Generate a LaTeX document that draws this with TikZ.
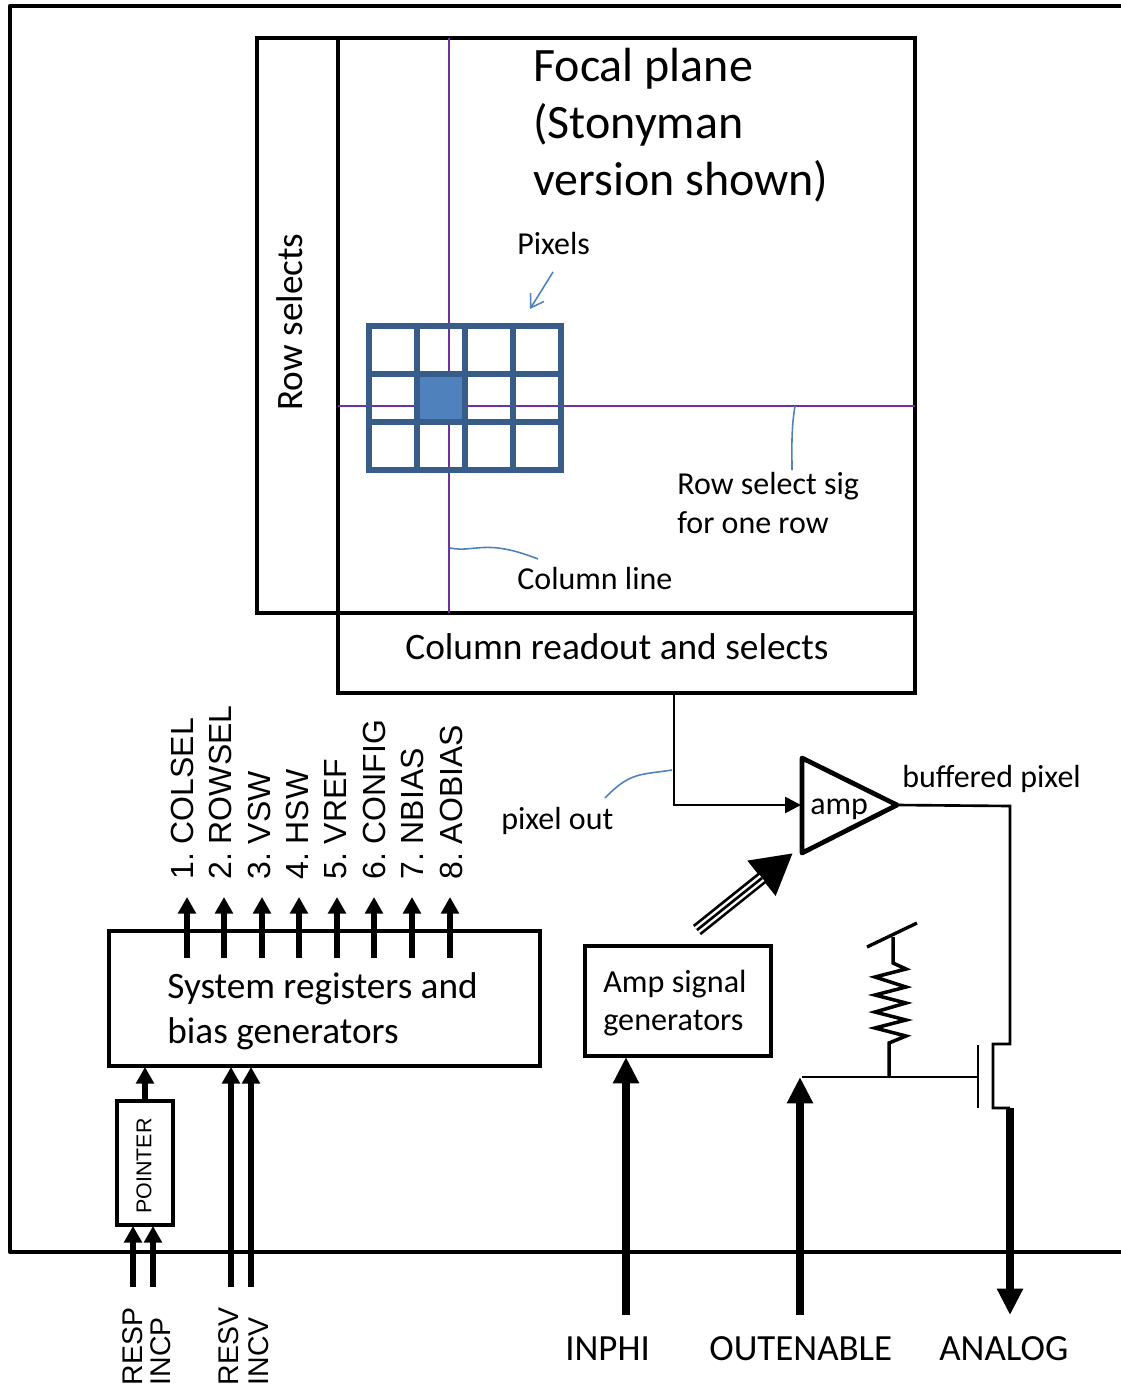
\documentclass[tikz,border=0pt]{standalone}
\usepackage{fontspec}
\setmainfont{Carlito}
\newfontfamily\arialfont{Liberation Sans}
\usetikzlibrary{arrows.meta}
\definecolor{PixBlue}{RGB}{79,129,189}
\definecolor{PixEdge}{RGB}{56,93,138}
\definecolor{LinePurple}{RGB}{112,48,160}
\tikzset{
	box/.style={draw=black,line width=2.7pt,inner sep=0pt},
	txt/.style={inner sep=0pt,anchor=west,align=left},
	wire/.style={draw=black,line width=1.5pt},
	sel/.style={draw=LinePurple,line width=1.5pt},
	note/.style={draw=PixBlue,line width=0.9pt},
	pixcell/.style={draw=PixEdge,line width=2.9pt,minimum width=0.96cm,minimum height=0.96cm,inner sep=0pt},
	sigin/.style={draw=black,line width=3.2pt,-{Triangle[width=10pt,length=9.5pt]}},
	bus/.style={draw=black,line width=4.6pt,-{Triangle[width=14pt,length=15pt]}},
	regfont/.style={font=\arialfont\frenchspacing\fontsize{18.2}{20}\selectfont},
	padfont/.style={font=\arialfont\fontsize{16.2}{18}\selectfont},
	midfont/.style={font=\fontsize{18.2}{22}\selectfont},
	pinfont/.style={font=\fontsize{21}{24}\selectfont},
}
\begin{document}
\begin{tikzpicture}[x=0.02cm,y=-0.02cm]
	\useasboundingbox (0,0) rectangle (1121,1386);
	% chip outline
	\coordinate (tr) at (1121,6);
	\coordinate (tl) at (10,6);
	\coordinate (bl) at (10,1252);
	\coordinate (br) at (1121,1252);
	\draw[black,line width=2.7pt,line join=round] (tr)--(tl)--(bl)--(br);
	% focal plane and its borders
	\node[box,minimum width=1.62cm,minimum height=11.5cm] (rowsel) at (297.5,325.5) {};
	\node[rotate=90,inner sep=0pt,font=\fontsize{21.2}{24}\selectfont] (rowseltxt) at (290,322) {Row selects};
	\node[box,minimum width=11.54cm,minimum height=11.5cm] (focal) at (626.5,325.5) {};
	\node[box,minimum width=11.54cm,minimum height=1.6cm] (colbox) at (626.5,653) {};
	\node[txt,font=\fontsize{21.25}{24}\selectfont] (colboxtxt) at (405,647) {Column readout and selects};
	\node[txt,font=\fontsize{27.3}{32.4}\selectfont] (focaltxt) at (533,125) {Focal plane\\(Stonyman\\version shown)};
	% select lines
	\coordinate (coltop) at (449,38);
	\coordinate (colbot) at (449,613);
	\coordinate (rowl) at (338,406);
	\coordinate (rowr) at (915,406);
	\draw[sel] (coltop)--(colbot);
	\draw[sel] (rowl)--(rowr);
	% pixels
	\foreach \i in {1,...,4}
	\foreach \j in {1,...,3}
	\node[pixcell] (c\i\j) at ({369+48*(\i-1)+24},{326+48*(\j-1)+24}) {};
	\node[pixcell,fill=PixBlue] (c22) at (441,398) {};
	\node[txt,midfont] (pixtxt) at (517,244) {Pixels};
	\coordinate (pixa) at (553,272);
	\coordinate (pixb) at (530,309);
	\draw[note,-{Straight Barb[width=9pt,length=7pt]}] (pixa)--(pixb);
	\node[txt,midfont] (rowtxt) at (677,503) {Row select sig\\for one row};
	\coordinate (rowa) at (795,406);
	\coordinate (rowb) at (792,470);
	\draw[note] (rowa) .. controls (791,430) and (792,450) .. (rowb);
	\node[txt,midfont] (coltxt) at (517,579) {Column line};
	\coordinate (cola) at (450,548);
	\coordinate (colb) at (538,559);
	\draw[note] (cola) .. controls (475,553) and (485,538) .. (colb);
	% pixel output into the amp
	\coordinate (ampa) at (802,758);
	\coordinate (ampb) at (802,853);
	\coordinate (ampc) at (897,805);
	\draw[black,line width=2.7pt,line join=round] (ampa)--(ampc)--(ampb)--cycle;
	\node[txt,midfont] (amptxt) at (810,809) {amp};
	\coordinate (colout) at (674,693);
	\coordinate (colbend) at (674,805);
	\coordinate (ampin) at (801,805);
	\draw[wire,-{Triangle[width=9pt,length=9pt]}] (colout)--(colbend)--(ampin);
	\node[txt,midfont] (outtxt) at (501,821) {pixel out};
	\coordinate (outa) at (672,770);
	\coordinate (outb) at (605,798);
	\draw[note] (outa) .. controls (640,775) and (630,772) .. (outb);
	% amp output and the transistor
	\node[txt,midfont] (buftxt) at (902,779) {buffered pixel};
	\coordinate (d1) at (1010,806);
	\coordinate (d2) at (1010,1044);
	\coordinate (d3) at (993,1044);
	\coordinate (d4) at (993,1108);
	\coordinate (d5) at (1010,1108);
	\draw[wire] (ampc)--(d1)--(d2)--(d3)--(d4)--(d5);
	\coordinate (gt) at (978,1045);
	\coordinate (gb) at (978,1108);
	\coordinate (gm) at (978,1077);
	\coordinate (en) at (802,1077);
	\coordinate (rb) at (889,1077);
	\coordinate (rt) at (893,937);
	\draw[wire] (gt)--(gb);
	\draw[wire] (en)--(gm);
	\draw[black,line width=2pt] (rb)--(889,1043)--(906,1036)--(875,1028)--(906,1020)--(875,1012)--(906,1003)--(875,995)--(906,987)--(875,977)--(906,969)--(893,963)--(rt);
	\coordinate (ta) at (867,947);
	\coordinate (tb) at (917,923);
	\draw[black,line width=1.9pt] (ta)--(tb);
	% amp signals
	\node[box,minimum width=3.72cm,minimum height=2.2cm] (gens) at (678,1001) {};
	\node[txt,font=\fontsize{18.3}{21.6}\selectfont] (genstxt) at (603,1003) {Amp signal\\generators};
	\coordinate (tra) at (697,930);
	\coordinate (trb) at (793,853);
	\coordinate (trc) at (762,878);
	\draw[black,line width=7.4pt,-{Triangle[width=24pt,length=23pt]}] (tra)--(trb);
	\draw[white,line width=1.4pt,double=black,double distance=1.5pt] (tra)--(trc);
	% registers
	\node[box,minimum width=8.62cm,minimum height=2.7cm] (regs) at (324.5,998.5) {};
	\node[txt,font=\fontsize{21.2}{25.6}\selectfont] (regstxt) at (167,1011.5) {System registers and\\bias generators};
	\foreach \n/\x/\lx/\s in {1/187/182/1. COLSEL,2/224/220/2. ROWSEL,3/262/259/3. VSW,4/299/297/4. HSW,5/337/336/5. VREF,6/374/374/6. CONFIG,7/412/412/7. NBIAS,8/450/451/8. AOBIAS}{
		\coordinate (r\n) at (\x,958);
		\coordinate (t\n) at (\x,897);
		\draw[sigin] (r\n)--(t\n);
		\node[regfont,rotate=90,inner sep=0pt,anchor=west] (lab\n) at (\lx,880) {\s};
	}
	% pads
	\node[box,minimum width=1.12cm,minimum height=2.48cm] (pointer) at (145,1163) {};
	\node[rotate=90,inner sep=0pt,font=\arialfont\fontsize{12.2}{15}\selectfont] (ptrtxt) at (144,1166) {POINTER};
	\foreach \n/\x/\lx/\s in {a/133/133/RESP,b/153/161/INCP}{
		\coordinate (p\n) at (\x,1287);
		\coordinate (q\n) at (\x,1226);
		\draw[sigin] (p\n)--(q\n);
		\node[padfont,rotate=90,inner sep=0pt,anchor=west] (lab\n) at (\lx,1385.5) {\s};
	}
	\coordinate (ptrreg) at (145,1067);
	\draw[sigin] (pointer.north)--(ptrreg);
	\foreach \n/\x/\lx/\s in {c/231/229/RESV,d/251/259/INCV}{
		\coordinate (p\n) at (\x,1287);
		\coordinate (q\n) at (\x,1067);
		\draw[sigin] (p\n)--(q\n);
		\node[padfont,rotate=90,inner sep=0pt,anchor=west] (lab\n) at (\lx,1385.5) {\s};
	}
	\coordinate (inphi) at (626,1315);
	\coordinate (inphit) at (626,1057);
	\draw[bus] (inphi)--(inphit);
	\node[txt,pinfont] (inphitxt) at (565,1349) {INPHI};
	\coordinate (oute) at (800,1315);
	\coordinate (outet) at (800,1077);
	\draw[bus] (oute)--(outet);
	\node[txt,pinfont] (outetxt) at (709,1349) {OUTENABLE};
	\coordinate (ana) at (1010,1315);
	\draw[bus] (d5)--(ana);
	\node[txt,pinfont] (anatxt) at (939,1349) {ANALOG};
\end{tikzpicture}
\end{document}
